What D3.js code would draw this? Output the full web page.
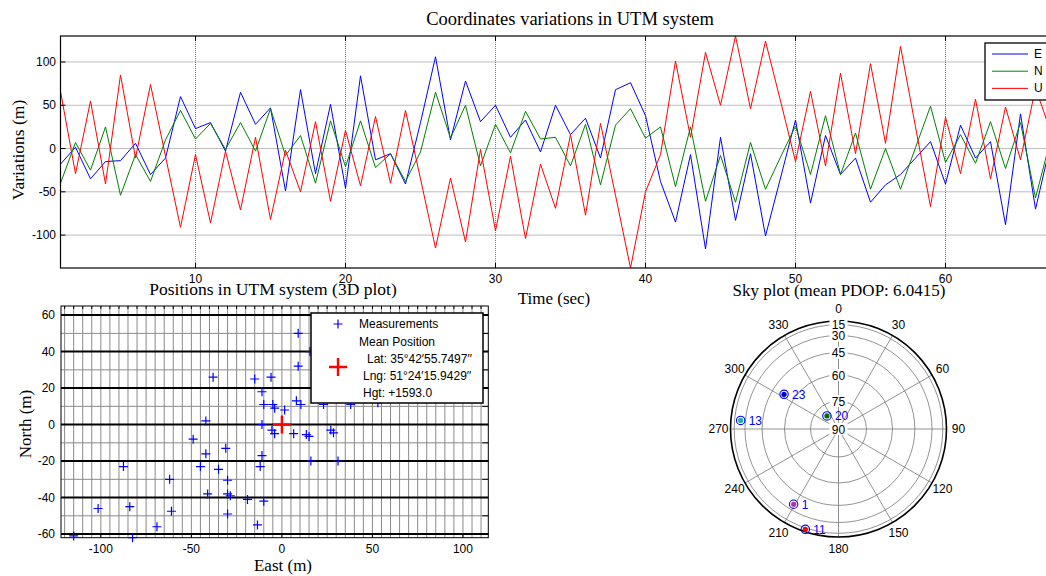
<!DOCTYPE html>
<html><head><meta charset="utf-8">
<script src="https://cdn.jsdelivr.net/npm/d3@7"></script>
<style>
html,body{margin:0;padding:0;background:#fff;overflow:hidden;}
svg{display:block;}
</style></head>
<body>
<svg id="chart" width="1046" height="576"></svg>
<script>
// ---------- Data: top chart (coordinate variations, m) ----------
const timeTicks = [10, 20, 30, 40, 50, 60];
const varTicks = [-100, -50, 0, 50, 100];
const seriesNames = ["E", "N", "U"];
const seriesColors = ["#0000ff", "#008000", "#ff0000"];
const E = [-18, 1.5, -35, -15, -14, 6, -30, -11, 60, 23, 30, -3, 65, 28, 47, -49, 68, -29, 51, -46,
  84, -13, -6, -41, 30, 106, 10, 78, 31, 50, 13, 33, -4, 50, 16, 35, -11, 68, 76, 38,
  -38, -85, -7, -116, 13, -83, -6, -101, -34, 33, -63, 15, -30, -11, -62, -42, -30, -11, 8, -41,
  27, -11, 8, -88, 40, -70, 5, 20, -10];
const N = [-40, 7, -25, 25, -54, -7, -38, 10, 44, 11, 29, -1, 30, -3, 46, -8, 15, -40, 32, -21,
  32, -22, -6, -38, -4, 65, 12, 50, -20, 28, -5, 43, 11, 13, -20, 28, -42, 27, 46, 12,
  25, -44, 25, -61, -8, -62, 7, -47, -10, 26, -30, 38, -30, 18, -47, 0, -47, 1, 49, -16,
  16, -17, 31, -23, 30, -57, 10, -20, 15];
const U = [66, -29, 55, -41, 85, -11, 74, -9, -91, -7, -86, -3, -71, 13, -82, -2, -50, 31, -61, 21,
  -43, 37, -40, 44, -35, -115, -34, -108, -1, -95, -9, -104, -18, -69, 16, -77, 29, -54, -138, -50,
  -7, 101, 13, 111, 50, 130, 46, 124, 55, -15, 66, -20, 87, -6, 98, 6, 118, 25, -67, 36,
  -29, 57, -35, 48, -13, 70, 20, 60, -5];

// ---------- Data: positions (East, North in m) ----------
const posEast = [9, 9, -38, -15, -6, -11, 8, -10, -5, -4, 1.5, -42, -11, -5.5, -4, 6.5, -49, -42, -31, -11,
  -87.5, -45, -35, -12, -62, -30, -41, -30, -28.5, -19, -10, -101.5, -84, -61, -30, -69, -13.5, -115, -82.5,
  15.5, 10.5, 23, 38, 53, 13.5, 15, 27, 28.5, 16, 31];
const posNorth = [50, 32, 26, 25, 26, 18, 13, 11, 11, 9, 8, 2, 0, -3, -5, -5, -8, -16, -13, -17,
  -23, -23, -24.5, -23, -30, -30.5, -38, -38, -39, -41, -42, -46, -45, -47.5, -49, -56, -55, -61, -62,
  40, 11, 11, 11, 12, -5.5, -6.5, -3, -4.5, -20, -20];
const meanPos = [0, 0];
const eastTicks = [-100, -50, 0, 50, 100];
const northTicks = [-60, -40, -20, 0, 20, 40, 60];
const legendLines = ["Lat: 35\u00b042\u203255.7497\u2032\u2032", "Lng: 51\u00b024\u203215.9429\u2032\u2032", "Hgt: +1593.0"];

// ---------- Data: sky plot ----------
const satPRN = ["23", "13", "20", "1", "11"];
const satAz = [302.5, 275, 318.5, 210.8, 198.3];
const satEl = [53.3, 24.6, 80.7, 35.8, 12];
const satFill = ["#0000cc", "#20b2aa", "#007000", "#b030b0", "#ff0000"];
const azTicks = [0, 30, 60, 90, 120, 150, 180, 210, 240, 270, 300, 330];
const elTicks = [15, 30, 45, 60, 75, 90];

const svg = d3.select("#chart");
const SANS = "Liberation Sans, Arial, sans-serif";
const SERIF = "Liberation Serif, Times New Roman, serif";

// ================= TOP CHART =================
(function () {
  const L = 60.5, R = 1080.5, T = 36, B = 268;
  const x = d3.scaleLinear().domain([1, 69]).range([L, R]);
  const y = d3.scaleLinear().domain([-138, 130]).range([B, T]);
  const g = svg.append("g");
  g.append("rect").attr("x", L).attr("y", T).attr("width", R - L).attr("height", B - T).attr("fill", "#fff");
  g.selectAll(".gx").data(timeTicks).join("line")
    .attr("x1", d => x(d)).attr("x2", d => x(d)).attr("y1", T).attr("y2", B)
    .attr("stroke", "#7a7a7a").attr("stroke-width", 1).attr("stroke-dasharray", "1,1");
  g.selectAll(".gy").data(varTicks).join("line")
    .attr("x1", L).attr("x2", R).attr("y1", d => y(d)).attr("y2", d => y(d))
    .attr("stroke", "#7a7a7a").attr("stroke-width", 1).attr("stroke-dasharray", "1,1");
  svg.append("clipPath").attr("id", "clipTop").append("rect")
    .attr("x", L).attr("y", T).attr("width", R - L).attr("height", B - T);
  const line = d3.line().x((d, i) => x(i + 1)).y(d => y(d));
  const lines = g.append("g").attr("clip-path", "url(#clipTop)");
  [E, N, U].forEach((s, k) => {
    lines.append("path").attr("d", line(s)).attr("fill", "none")
      .attr("stroke", seriesColors[k]).attr("stroke-width", 1);
  });
  g.append("rect").attr("x", L).attr("y", T).attr("width", R - L).attr("height", B - T)
    .attr("fill", "none").attr("stroke", "#000").attr("stroke-width", 1.2);
  timeTicks.forEach(d => {
    g.append("line").attr("x1", x(d)).attr("x2", x(d)).attr("y1", B).attr("y2", B - 5).attr("stroke", "#000");
    g.append("line").attr("x1", x(d)).attr("x2", x(d)).attr("y1", T).attr("y2", T + 5).attr("stroke", "#000");
  });
  varTicks.forEach(d => {
    g.append("line").attr("x1", L).attr("x2", L + 5).attr("y1", y(d)).attr("y2", y(d)).attr("stroke", "#000");
  });
  g.selectAll(".tx").data(timeTicks).join("text")
    .attr("x", d => x(d)).attr("y", 283).attr("text-anchor", "middle")
    .attr("font-family", SANS).attr("font-size", 12).text(d => d);
  g.selectAll(".ty").data(varTicks).join("text")
    .attr("x", 56).attr("y", d => y(d) + 4).attr("text-anchor", "end")
    .attr("font-family", SANS).attr("font-size", 12).text(d => d);
  g.append("text").attr("x", 570).attr("y", 25).attr("text-anchor", "middle")
    .attr("font-family", SERIF).attr("font-size", 18.5).text("Coordinates variations in UTM system");
  g.append("text").attr("x", 554).attr("y", 304).attr("text-anchor", "middle")
    .attr("font-family", SERIF).attr("font-size", 17).text("Time (sec)");
  g.append("text").attr("transform", "translate(24,150) rotate(-90)").attr("text-anchor", "middle")
    .attr("font-family", SERIF).attr("font-size", 17.5).text("Variations (m)");
  const lg = g.append("g");
  lg.append("rect").attr("x", 985).attr("y", 43).attr("width", 110).attr("height", 57)
    .attr("fill", "#fff").attr("stroke", "#000").attr("stroke-width", 1.3);
  seriesNames.forEach((n, k) => {
    const yy = 54 + k * 17.2;
    lg.append("line").attr("x1", 992).attr("x2", 1028).attr("y1", yy).attr("y2", yy)
      .attr("stroke", seriesColors[k]).attr("stroke-width", 1);
    lg.append("text").attr("x", 1034).attr("y", yy + 4).attr("font-family", SANS)
      .attr("font-size", 12).text(n);
  });
})();

// ================= POSITIONS =================
(function () {
  const L = 61, R = 488.3, T = 306, B = 537.7;
  const x = d3.scaleLinear().domain([-122, 114]).range([L, R]);
  const y = d3.scaleLinear().domain([-62, 65]).range([B, T]);
  const g = svg.append("g");
  g.append("rect").attr("x", L).attr("y", T).attr("width", R - L).attr("height", B - T).attr("fill", "#fff");
  const vx = d3.range(-120, 115, 5);
  g.selectAll(".vg").data(vx).join("line")
    .attr("x1", d => x(d)).attr("x2", d => x(d)).attr("y1", T).attr("y2", B)
    .attr("stroke", "#8a8a8a").attr("stroke-width", 1);
  const hy = d3.range(-60, 65, 10);
  g.selectAll(".hg").data(hy).join("line")
    .attr("x1", L).attr("x2", R).attr("y1", d => y(d)).attr("y2", d => y(d))
    .attr("stroke", d => (d % 20 === 0 ? "#000" : "#8a8a8a"))
    .attr("stroke-width", d => (d % 20 === 0 ? 2 : 1));
  g.append("rect").attr("x", L).attr("y", T).attr("width", R - L).attr("height", B - T)
    .attr("fill", "none").attr("stroke", "#000").attr("stroke-width", 1);
  vx.forEach(d => {
    g.append("line").attr("x1", x(d)).attr("x2", x(d)).attr("y1", T).attr("y2", T + 3).attr("stroke", "#000");
  });
  eastTicks.forEach(d => {
    g.append("line").attr("x1", x(d)).attr("x2", x(d)).attr("y1", B).attr("y2", B - 4).attr("stroke", "#000");
  });
  hy.forEach(d => {
    g.append("line").attr("x1", R).attr("x2", R - 6).attr("y1", y(d)).attr("y2", y(d)).attr("stroke", "#000");
  });
  const pts = g.append("g");
  posEast.forEach((e, i) => {
    const px = x(e), py = y(posNorth[i]);
    pts.append("path").attr("d", `M${px - 4.5},${py}H${px + 4.5}M${px},${py - 4.5}V${py + 4.5}`)
      .attr("stroke", "#0000ff").attr("stroke-width", 1.2).attr("fill", "none");
  });
  const mx = x(meanPos[0]), my = y(meanPos[1]);
  g.append("path").attr("d", `M${mx - 9},${my}H${mx + 9}M${mx},${my - 9}V${my + 9}`)
    .attr("stroke", "#ff0000").attr("stroke-width", 2.4);
  g.selectAll(".xl").data(eastTicks).join("text")
    .attr("x", d => x(d)).attr("y", 553).attr("text-anchor", "middle")
    .attr("font-family", SANS).attr("font-size", 12).text(d => d);
  g.selectAll(".yl").data(northTicks).join("text")
    .attr("x", 55).attr("y", d => y(d) + 4).attr("text-anchor", "end")
    .attr("font-family", SANS).attr("font-size", 12).text(d => d);
  g.append("text").attr("x", 273).attr("y", 295).attr("text-anchor", "middle")
    .attr("font-family", SERIF).attr("font-size", 17.5).text("Positions in UTM system (3D plot)");
  g.append("text").attr("x", 283).attr("y", 571).attr("text-anchor", "middle")
    .attr("font-family", SERIF).attr("font-size", 17).text("East (m)");
  g.append("text").attr("transform", "translate(31,424) rotate(-90)").attr("text-anchor", "middle")
    .attr("font-family", SERIF).attr("font-size", 17).text("North (m)");
  const lg = g.append("g");
  lg.append("rect").attr("x", 311).attr("y", 313).attr("width", 172).attr("height", 90)
    .attr("fill", "#fff").attr("stroke", "#000").attr("stroke-width", 1.5);
  lg.append("path").attr("d", "M333.5,324H342.5M338,319.5V328.5").attr("stroke", "#0000ff").attr("stroke-width", 1.2);
  lg.append("text").attr("x", 359).attr("y", 328).attr("font-family", SANS).attr("font-size", 12).text("Measurements");
  lg.append("text").attr("x", 359).attr("y", 346).attr("font-family", SANS).attr("font-size", 12).text("Mean Position");
  lg.append("path").attr("d", "M329,367H347M338,358V376").attr("stroke", "#ff0000").attr("stroke-width", 2.4);
  [367, 363, 363].forEach((xx, k) => {
    lg.append("text").attr("x", xx).attr("y", 363 + k * 17).attr("font-family", SANS).attr("font-size", 12).text(legendLines[k]);
  });
})();

// ================= SKY PLOT =================
(function () {
  const cx = 838.5, cy = 429, R = 108;
  const r = d3.scaleLinear().domain([0, 1]).range([0, R]);
  const rad = el => r(Math.cos(el * Math.PI / 180));
  const g = svg.append("g");
  g.append("circle").attr("cx", cx).attr("cy", cy).attr("r", R).attr("fill", "#fff");
  azTicks.forEach(a => {
    const t = a * Math.PI / 180;
    g.append("line").attr("x1", cx).attr("y1", cy)
      .attr("x2", cx + R * Math.sin(t)).attr("y2", cy - R * Math.cos(t))
      .attr("stroke", "#777").attr("stroke-width", 0.8);
  });
  elTicks.slice(0, 5).forEach(el => {
    g.append("circle").attr("cx", cx).attr("cy", cy).attr("r", rad(el))
      .attr("fill", "none").attr("stroke", "#777").attr("stroke-width", 0.8);
  });
  g.append("circle").attr("cx", cx).attr("cy", cy).attr("r", R)
    .attr("fill", "none").attr("stroke", "#000").attr("stroke-width", 1.6);
  azTicks.forEach(a => {
    const t = a * Math.PI / 180;
    g.append("text").attr("x", cx + 120 * Math.sin(t)).attr("y", cy - 120 * Math.cos(t) + 4)
      .attr("text-anchor", "middle").attr("font-family", SANS).attr("font-size", 12).text(a);
  });
  elTicks.forEach(el => {
    const yy = cy - rad(el);
    g.append("rect").attr("x", cx - 9).attr("y", yy - 6).attr("width", 18).attr("height", 12).attr("fill", "#fff");
    g.append("text").attr("x", cx).attr("y", yy + 4.5).attr("text-anchor", "middle")
      .attr("font-family", SANS).attr("font-size", 12).text(el);
  });
  satPRN.forEach((p, i) => {
    const t = satAz[i] * Math.PI / 180, rr = rad(satEl[i]);
    const sx = cx + rr * Math.sin(t), sy = cy - rr * Math.cos(t);
    g.append("circle").attr("cx", sx).attr("cy", sy).attr("r", 2.6).attr("fill", satFill[i]);
    g.append("circle").attr("cx", sx).attr("cy", sy).attr("r", 4.2)
      .attr("fill", "none").attr("stroke", "#0000ff").attr("stroke-width", 1.1);
    g.append("text").attr("x", sx + 8).attr("y", sy + 4.5).attr("font-family", SANS)
      .attr("font-size", 12).attr("fill", "#0000ff").text(p);
  });
  g.append("text").attr("x", 839).attr("y", 296).attr("text-anchor", "middle")
    .attr("font-family", SERIF).attr("font-size", 17).text("Sky plot (mean PDOP: 6.0415)");
})();
</script>
</body></html>
